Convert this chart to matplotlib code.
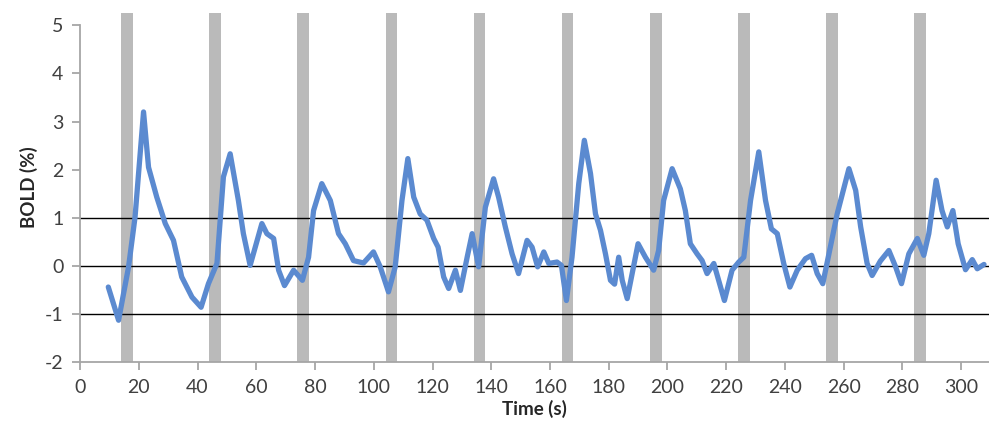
import numpy as np
import matplotlib
matplotlib.use("Agg")
import matplotlib.pyplot as plt

plt.rcParams["font.family"] = ["Lato", "DejaVu Sans"]
plt.rcParams["axes.unicode_minus"] = False

# BOLD response (time in s, signal in %)
time_s = [
    9.6, 13.1, 16.5, 18.7, 21.6, 23.3, 26.1, 29.0, 31.8, 34.6,
    38.1, 41.2, 43.7, 46.6, 48.8, 51.1, 53.9, 55.6, 57.9, 61.9,
    63.6, 65.9, 67.6, 69.6, 72.7, 75.7, 77.8, 79.5, 82.3, 85.2,
    88.0, 90.3, 93.1, 96.5, 99.9, 102.2, 105.0, 107.3, 109.6, 111.6,
    113.6, 115.8, 118.1, 120.4, 121.9, 123.8, 125.5, 127.8, 129.5, 131.8,
    133.5, 135.7, 138.0, 140.8, 142.5, 144.8, 147.1, 149.3, 152.2, 153.9,
    155.8, 157.9, 159.6, 162.4, 163.9, 165.6, 167.5, 169.8, 171.7, 173.8,
    175.5, 177.2, 178.9, 180.6, 182.0, 183.4, 184.6, 186.3, 188.0, 190.0,
    192.5, 195.3, 197.0, 198.7, 201.6, 204.4, 206.1, 207.8, 210.1, 211.8,
    213.5, 215.8, 219.4, 222.0, 224.3, 226.0, 228.3, 231.1, 233.4, 235.4,
    237.4, 239.6, 241.7, 244.2, 247.0, 249.1, 251.0, 252.9, 255.0, 257.8,
    261.8, 264.1, 265.8, 268.0, 269.7, 272.5, 275.4, 277.7, 279.7, 282.2,
    285.1, 287.3, 289.0, 291.5, 293.5, 295.3, 297.2, 299.0, 301.5, 303.8,
    305.5, 307.8,
]
bold_pct = [
    -0.44, -1.13, -0.02, 1.01, 3.20, 2.05, 1.43, 0.88, 0.53, -0.23,
    -0.65, -0.86, -0.37, 0.05, 1.85, 2.33, 1.36, 0.67, 0.01, 0.88,
    0.67, 0.57, -0.09, -0.41, -0.09, -0.30, 0.18, 1.15, 1.71, 1.36,
    0.67, 0.46, 0.11, 0.06, 0.29, -0.02, -0.54, -0.02, 1.36, 2.23,
    1.43, 1.08, 0.95, 0.57, 0.39, -0.23, -0.47, -0.09, -0.51, 0.18,
    0.67, -0.02, 1.22, 1.81, 1.43, 0.81, 0.25, -0.16, 0.53, 0.39,
    -0.02, 0.29, 0.05, 0.08, 0.01, -0.72, 0.18, 1.71, 2.61, 1.92,
    1.08, 0.74, 0.25, -0.30, -0.38, 0.18, -0.30, -0.68, -0.16, 0.46,
    0.18, -0.09, 0.32, 1.36, 2.02, 1.60, 1.15, 0.46, 0.25, 0.11,
    -0.16, 0.05, -0.72, -0.09, 0.08, 0.18, 1.36, 2.37, 1.36, 0.77,
    0.67, 0.05, -0.44, -0.09, 0.15, 0.22, -0.16, -0.37, 0.25, 1.08,
    2.02, 1.57, 0.81, 0.05, -0.20, 0.10, 0.32, -0.02, -0.37, 0.25,
    0.57, 0.22, 0.67, 1.78, 1.15, 0.81, 1.15, 0.46, -0.08, 0.13,
    -0.06, 0.03,
]

# stimulus blocks (onset, offset in s)
block_on = [14, 44, 74, 104, 134, 164, 194, 224, 254, 284]
block_off = [18, 48, 78, 108, 138, 168, 198, 228, 258, 288]

ref_levels = [-1, 0, 1]
x_ticks = list(range(0, 301, 20))
y_ticks = list(range(-2, 6))

fig = plt.figure(figsize=(9.89, 4.28), dpi=100)
ax = fig.add_axes([0.081, 0.154, 0.919, 0.816])

for on, off in zip(block_on, block_off):
    ax.axvspan(on, off, ymin=0, ymax=1, color="#bababa", lw=0, zorder=1)

for lvl in ref_levels:
    ax.axhline(lvl, color="black", lw=1.0, zorder=2)

ax.plot(time_s, bold_pct, color="#5b8ad0", lw=3.8,
        solid_joinstyle="round", solid_capstyle="round", zorder=3)

ax.set_xlim(0, 309.5)
ax.set_ylim(-2, 5.26)
ax.set_xticks(x_ticks)
ax.set_yticks(y_ticks)

for side in ["top", "right"]:
    ax.spines[side].set_visible(False)
for side in ["left", "bottom"]:
    ax.spines[side].set_color("#a6a6a6")
    ax.spines[side].set_linewidth(1.3)
ax.spines["left"].set_bounds(-2, 5)

ax.tick_params(axis="both", colors="#a6a6a6", width=1.3, length=6,
               labelsize=14, labelcolor="#404040", pad=6)

ax.set_xlabel("Time (s)", fontsize=13.5, fontweight="bold", color="#262626",
              labelpad=3)
ax.set_ylabel("BOLD (%)", fontsize=13.5, fontweight="bold", color="#262626",
              labelpad=5)

fig.savefig("out.png", dpi=100)
